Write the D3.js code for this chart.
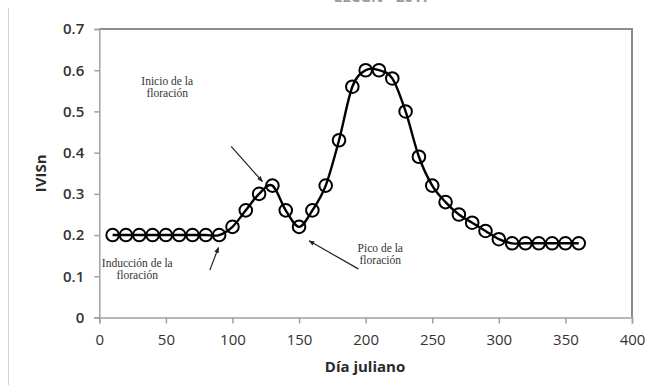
<!DOCTYPE html>
<html>
<head>
<meta charset="utf-8">
<script src="https://cdn.jsdelivr.net/npm/d3@7"></script>
<style>
  html, body { margin: 0; padding: 0; background: #fff; }
  svg { display: block; }
</style>
</head>
<body>
<svg id="chart" width="648" height="385"></svg>
<script>
// Julian day of each observation and the normalised index (IVISn)
const days = [10, 20, 30, 40, 50, 60, 70, 80, 90, 100, 110, 120, 130, 140, 150, 160, 170, 180,
              190, 200, 210, 220, 230, 240, 250, 260, 270, 280, 290, 300, 310, 320, 330, 340, 350, 360];
const ivisn = [0.20, 0.20, 0.20, 0.20, 0.20, 0.20, 0.20, 0.20, 0.20, 0.22, 0.26, 0.30, 0.32, 0.26, 0.22, 0.26, 0.32, 0.43,
               0.56, 0.60, 0.60, 0.58, 0.50, 0.39, 0.32, 0.28, 0.25, 0.23, 0.21, 0.19, 0.18, 0.18, 0.18, 0.18, 0.18, 0.18];
const xTicks = [0, 50, 100, 150, 200, 250, 300, 350, 400];
const yTicks = [0, 0.1, 0.2, 0.3, 0.4, 0.5, 0.6, 0.7];

// Phenology annotations: label lines, label anchor (data units) and arrow (tail -> head, data units)
const notes = [
  { lines: ["Inicio de la", "floración"], at: [51, 0.565], arrow: [[99, 0.415], [122.5, 0.330]] },
  { lines: ["Inducción de la", "floración"], at: [28.5, 0.123], arrow: [[83, 0.115], [89.5, 0.170]] },
  { lines: ["Pico de la", "floración"], at: [211, 0.160], arrow: [[194.5, 0.118], [157.5, 0.186]] }
];

const svg = d3.select("#chart");
const margin = { left: 99.3, right: 16, top: 29, bottom: 67.5 };
const W = 648, H = 385;

const x = d3.scaleLinear().domain([0, 400]).range([margin.left, W - margin.right]);
const y = d3.scaleLinear().domain([0, 0.7]).range([H - margin.bottom, margin.top]);

// thin frame line along the left edge of the figure
svg.append("line")
  .attr("x1", 8.5).attr("x2", 8.5).attr("y1", 8).attr("y2", H)
  .attr("stroke", "#d4d4d4").attr("stroke-width", 1);

// chart title (sits mostly above the figure edge)
svg.append("text")
  .attr("x", 382).attr("y", 2)
  .attr("text-anchor", "middle")
  .attr("font-family", "'Open Sans', sans-serif")
  .attr("font-weight", 700)
  .attr("font-size", 15)
  .attr("fill", "#9a9a9a")
  .text("LLCGN - 2017");

// plot-area border on top and right
svg.append("path")
  .attr("d", `M${x(0)},${y(0.7)}H${x(400)}V${y(0)}`)
  .attr("fill", "none").attr("stroke", "#8c8c8c").attr("stroke-width", 2);

const tickFont = "'Open Sans', 'Liberation Sans', sans-serif";

// x axis
const xAxis = svg.append("g")
  .attr("transform", `translate(0,${y(0)})`)
  .call(d3.axisBottom(x).tickValues(xTicks).tickSize(6).tickPadding(11).tickFormat(d3.format("d")));
// y axis
const yAxis = svg.append("g")
  .attr("transform", `translate(${x(0)},0)`)
  .call(d3.axisLeft(y).tickValues(yTicks).tickSize(5).tickPadding(10)
        .tickFormat(d => d === 0 ? "0" : d3.format(".1f")(d)));

[xAxis, yAxis].forEach(g => {
  g.select(".domain").attr("stroke", "#a0a0a0").attr("stroke-width", 1.5);
  g.selectAll(".tick line").attr("stroke", "#a0a0a0").attr("stroke-width", 1.5);
  g.selectAll(".tick text")
    .attr("font-family", tickFont).attr("font-size", 15).attr("fill", "#333");
});
yAxis.selectAll(".tick text").attr("font-weight", 600);

// axis titles
svg.append("text")
  .attr("x", 365).attr("y", 372)
  .attr("text-anchor", "middle")
  .attr("font-family", tickFont).attr("font-weight", 700).attr("font-size", 15)
  .attr("fill", "#2a2a2a")
  .text("Día juliano");
svg.append("text")
  .attr("transform", `translate(46,${y(0.35)}) rotate(-90)`)
  .attr("text-anchor", "middle")
  .attr("font-family", tickFont).attr("font-weight", 700).attr("font-size", 15)
  .attr("fill", "#2a2a2a")
  .text("IVISn");

const data = days.map((d, i) => ({ day: d, v: ivisn[i] }));

// smoothed series line
svg.append("path")
  .datum(data)
  .attr("fill", "none")
  .attr("stroke", "#000")
  .attr("stroke-width", 2.4)
  .attr("d", d3.line().x(d => x(d.day)).y(d => y(d.v)).curve(d3.curveCardinal.tension(0)));

// hollow circle markers
svg.append("g").selectAll("circle")
  .data(data)
  .join("circle")
  .attr("cx", d => x(d.day))
  .attr("cy", d => y(d.v))
  .attr("r", 6.3)
  .attr("fill", "none")
  .attr("stroke", "#000")
  .attr("stroke-width", 2);

// arrow marker
svg.append("defs").append("marker")
  .attr("id", "arrowhead")
  .attr("viewBox", "0 0 10 10")
  .attr("refX", 9).attr("refY", 5)
  .attr("markerWidth", 5).attr("markerHeight", 5)
  .attr("orient", "auto")
  .append("path").attr("d", "M0,1L10,5L0,9Z").attr("fill", "#222");

const serif = "'Liberation Serif', 'Times New Roman', serif";
notes.forEach(n => {
  const t = svg.append("text")
    .attr("text-anchor", "middle")
    .attr("font-family", serif).attr("font-size", 11.5)
    .attr("fill", "#333");
  n.lines.forEach((line, i) => {
    t.append("tspan")
      .attr("x", x(n.at[0]))
      .attr("y", y(n.at[1]) + i * 12.5)
      .text(line);
  });
  svg.append("line")
    .attr("x1", x(n.arrow[0][0])).attr("y1", y(n.arrow[0][1]))
    .attr("x2", x(n.arrow[1][0])).attr("y2", y(n.arrow[1][1]))
    .attr("stroke", "#222").attr("stroke-width", 1.2)
    .attr("marker-end", "url(#arrowhead)");
});
</script>
</body>
</html>
